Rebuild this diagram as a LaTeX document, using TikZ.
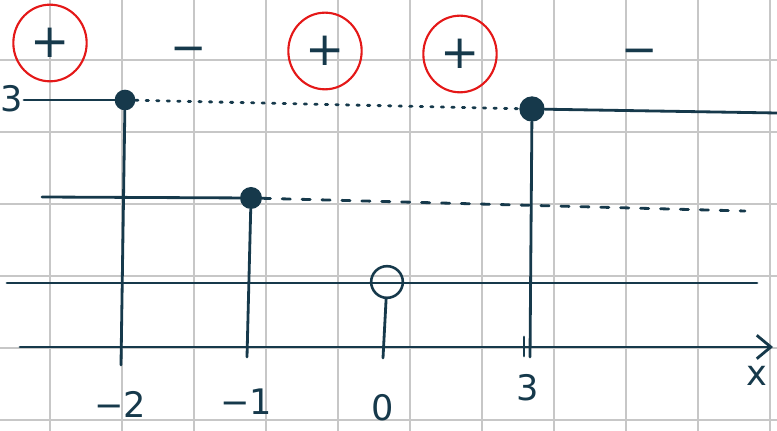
\documentclass[tikz,border=0pt]{standalone}
\usepackage{fontspec}
\setmainfont{DejaVu Sans}
\usepackage{tikz}
\usetikzlibrary{positioning,arrows.meta}
\usetikzlibrary{shapes.geometric}
\definecolor{ink}{RGB}{22,57,75}
\definecolor{pen}{RGB}{228,24,24}
\tikzstyle{grid} = [draw=black!22, line width=1.5pt]
\tikzstyle{stroke} = [draw=ink, line width=2.4pt, line cap=round]
\tikzstyle{dot} = [circle, fill=ink, inner sep=0pt, minimum size=0.66cm]
\tikzstyle{hole} = [circle, draw=ink, line width=2.2pt, inner sep=0pt, minimum size=0.95cm]
\tikzstyle{sign} = [ellipse, draw=pen, line width=1.8pt, inner sep=0pt, minimum width=2.2cm, minimum height=2.3cm, text=ink, font=\fontsize{40}{40}\selectfont]
\tikzstyle{lab} = [text=ink, font=\fontsize{30}{32}\selectfont]
\tikzstyle{minus} = [text=ink, font=\fontsize{37}{37}\selectfont]

\begin{document}
\begin{tikzpicture}[x=0.03cm, y=-0.03cm]
\useasboundingbox (0,0) rectangle (777,431);
\foreach \x in {50,122,...,770} \draw[grid] (\x,0) -- (\x,431);
\foreach \y in {60,132,...,420} \draw[grid] (0,\y) -- (777,\y);

% sign row
\node[sign] (s1) at (50,43) {+};
\node[minus] (m1) at (189,55) {−};
\node[sign] (s2) at (325,51) {+};
\node[sign] (s3) at (460,54) {+};
\node[minus] (m2) at (640,57) {−};

% levels
\node[lab, anchor=west, inner sep=0pt] (y3) at (0,99) {3};
\coordinate (l3a) at (24,100);
\node[dot, minimum size=0.62cm] (d1) at (125,100) {};
\node[dot, minimum size=0.76cm] (d3) at (532,109) {};
\coordinate (l3b) at (777,113);
\draw[stroke] (l3a) -- (d1);
\draw[stroke, dash pattern=on 2pt off 7pt] (d1) -- (d3);
\draw[stroke] (d3) -- (l3b);

\coordinate (l2a) at (42,197);
\node[dot] (d2) at (251,198) {};
\coordinate (l2b) at (745,211);
\draw[stroke] (l2a) -- (d2);
\draw[stroke, dash pattern=on 7pt off 10pt] (d2) -- (l2b);

\coordinate (la) at (7,283);
\coordinate (lb) at (757,283);
\node[hole] (h0) at (387,282) {};
\draw[stroke] (la) -- (lb);

% axis
\coordinate (ax0) at (20,347);
\coordinate (ax1) at (773,347);
\draw[stroke, -{Straight Barb[length=12pt,width=20pt]}] (ax0) -- (ax1);

\coordinate (f1) at (121,365);
\coordinate (f2) at (247,357);
\coordinate (f0) at (383,358);
\coordinate (f3) at (530,357);
\coordinate (t3a) at (524,337);
\coordinate (t3b) at (524,356);
\draw[stroke] (d1) -- (f1);
\draw[stroke] (d2) -- (f2);
\draw[stroke] (h0) -- (f0);
\draw[stroke] (d3) -- (f3);
\draw[stroke] (t3a) -- (t3b);

\node[lab] (xm2) at (120,404) {−2};
\node[lab] (xm1) at (246,402) {−1};
\node[lab] (x0) at (383,408) {0};
\node[lab] (x3) at (528,388) {3};
\node[lab] (xl) at (757,376) {x};
\end{tikzpicture}
\end{document}
